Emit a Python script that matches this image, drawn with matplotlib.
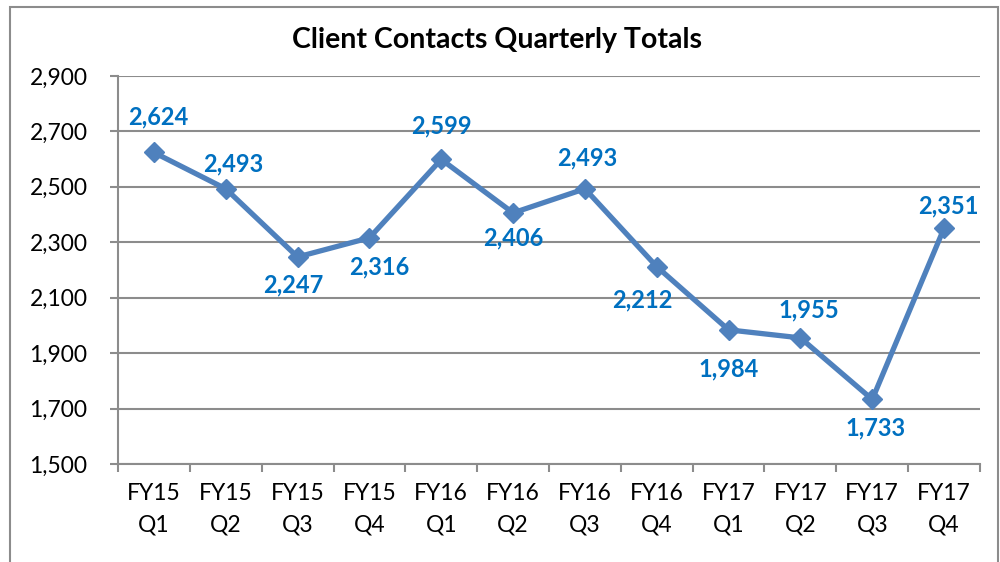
import matplotlib.pyplot as plt
from matplotlib.patches import Rectangle
import numpy as np

plt.rcParams['font.family'] = ['Lato', 'DejaVu Sans']

quarters = ["FY15\nQ1", "FY15\nQ2", "FY15\nQ3", "FY15\nQ4",
            "FY16\nQ1", "FY16\nQ2", "FY16\nQ3", "FY16\nQ4",
            "FY17\nQ1", "FY17\nQ2", "FY17\nQ3", "FY17\nQ4"]
contacts = [2624, 2493, 2247, 2316, 2599, 2406, 2493, 2212, 1984, 1955, 1733, 2351]

# label offsets in pixels (dx, dy), as placed in the original
label_offsets = [(4, 36), (7, 25), (-4, -28), (10, -29), (0, 33), (0, -25),
                 (2, 31), (-14, -33), (0, -39), (8, 28), (3, -29), (4, 22)]

grid_color = "#8c8c8c"
line_color = "#4f81bd"
label_color = "#0070c0"

fig = plt.figure(figsize=(10, 5.62), dpi=100)
ax = fig.add_axes([0.118, 0.1744, 0.862, 0.6904])

x = np.arange(len(contacts))
ax.plot(x, contacts, color=line_color, lw=3.8, marker="D", markersize=10.5, zorder=3)

for xi, v, (dx, dy) in zip(x, contacts, label_offsets):
    ax.annotate(f"{v:,}", (xi, v), xytext=(dx, dy), textcoords="offset pixels",
                ha="center", va="center", color=label_color, fontsize=17,
                fontweight="bold", zorder=4)

ax.set_xlim(-0.5, len(contacts) - 0.5)
ax.set_ylim(1500, 2900)
ax.set_yticks(np.arange(1500, 2901, 200))
ax.yaxis.set_major_formatter(plt.FuncFormatter(lambda v, p: f"{int(v):,}"))
ax.grid(True, axis="y", color=grid_color, lw=1.5)
ax.set_axisbelow(True)

ax.set_xticks(x)
ax.set_xticklabels(quarters, linespacing=1.6)
ax.set_xticks(np.arange(-0.5, len(contacts)), minor=True)
ax.tick_params(axis="x", which="major", length=0, pad=14, labelsize=16.5)
ax.tick_params(axis="x", which="minor", length=6, width=1.5, color=grid_color, direction="out")
ax.tick_params(axis="y", length=6, width=1.5, color=grid_color, pad=16, labelsize=16.5)

for side in ["top", "right"]:
    ax.spines[side].set_visible(False)
for side in ["left", "bottom"]:
    ax.spines[side].set_color(grid_color)
    ax.spines[side].set_linewidth(1.5)

fig.text(0.497, 1 - 40 / 562, "Client Contacts Quarterly Totals", ha="center", va="center",
         fontsize=20.5, fontweight="bold")

# chart border
fig.add_artist(Rectangle((0.010, -0.05), 0.988, 1 - 7 / 562 + 0.05, transform=fig.transFigure,
                         fill=False, edgecolor=grid_color, lw=1.5))

fig.savefig("out.png")
